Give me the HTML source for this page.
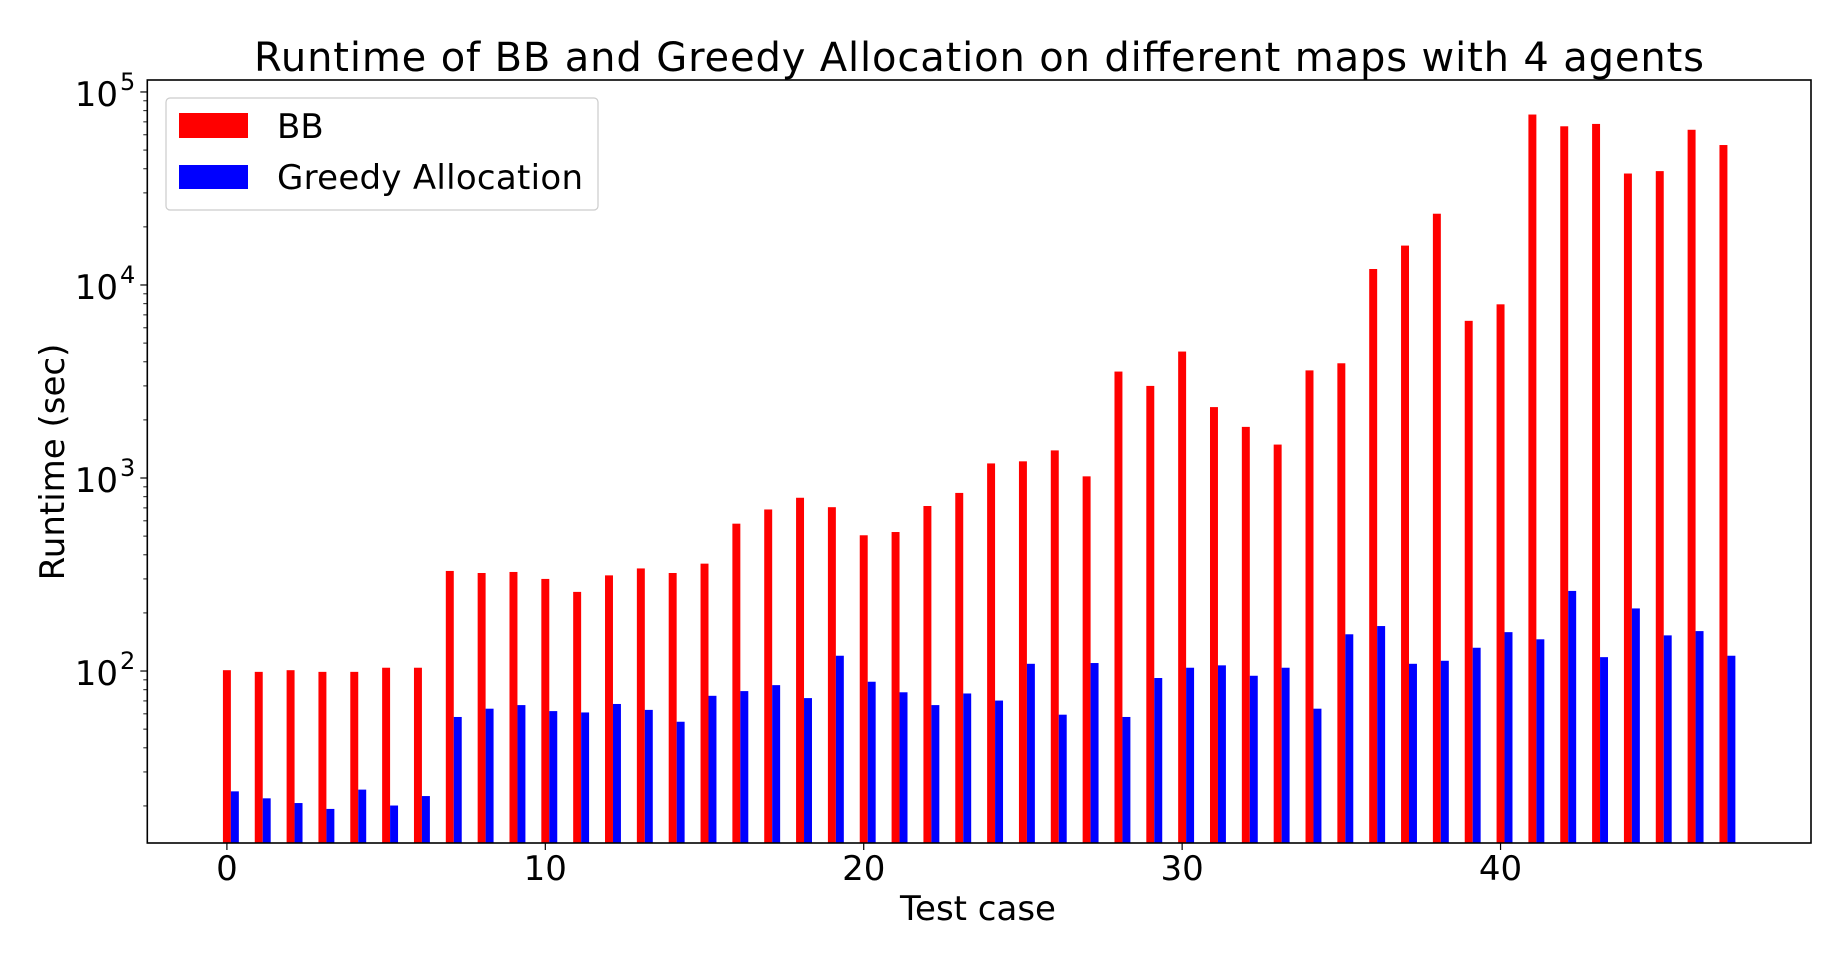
<!DOCTYPE html>
<html><head><meta charset="utf-8"><style>
html,body{margin:0;padding:0;background:#fff;}
svg{display:block;font-family:"DejaVu Sans","Liberation Sans",sans-serif;}
</style></head><body>
<svg id="chart" width="1848" height="964" viewBox="0 0 1848 964">
<text x="979" y="71" font-size="40" text-anchor="middle" textLength="1450">Runtime of BB and Greedy Allocation on different maps with 4 agents</text>
<g id="bars"></g>
<g id="axes"></g>
<text x="978" y="920" font-size="34" text-anchor="middle">Test case</text>
<text transform="translate(64,462) rotate(-90)" font-size="34" text-anchor="middle">Runtime (sec)</text>
<g>
<rect x="166" y="98" width="432" height="112" rx="4" fill="#fff" fill-opacity="0.8" stroke="#ccc" stroke-width="1.2"/>
<rect x="179" y="113" width="69" height="25" fill="#ff0000"/>
<text x="277" y="138" font-size="34">BB</text>
<rect x="179" y="165" width="69" height="24" fill="#0000ff"/>
<text x="277" y="189" font-size="34" textLength="306">Greedy Allocation</text>
</g>
</svg>
<script>
const categories = Array.from({length:48},(_,i)=>i);
const bbValues = [101,99,101,99,99,104,104,330,322,326,300,257,313,340,322,360,580,687,790,706,505,525,716,837,1190,1220,1390,1020,3560,3000,4520,2330,1840,1490,3610,3930,12100,16000,23400,6520,7940,76400,66400,68300,37800,38900,63700,53100];
const greedyValues = [23.8,21.9,20.7,19.3,24.3,20.1,22.5,57.8,63.8,66.6,62,61,67.5,62.9,54.6,74.4,78.7,84.5,72.4,120,88,77.6,66.6,76.5,70.3,109,59.4,110,57.8,92,104,107,94.5,104,63.8,155,171,109,113,132,159,146,260,118,211,153,161,120];
const xTicks = [0,10,20,30,40];
const yTicks = [2,3,4,5];

const NS = "http://www.w3.org/2000/svg";
const L=147.3, R=1811, T=80, B=843;
const xMin=-2.5, xMax=49.75;
const yTopLog=5.062, yBotLog=1.109;
const xs = v => L + (v - xMin)/(xMax - xMin)*(R - L);
const ys = v => T + (yTopLog - Math.log10(v))/(yTopLog - yBotLog)*(B - T);
const ysLog = lg => T + (yTopLog - lg)/(yTopLog - yBotLog)*(B - T);
const bw = 0.25;
function mk(tag, attrs){const e=document.createElementNS(NS,tag);for(const k in attrs)e.setAttribute(k,attrs[k]);return e;}
const bars=document.getElementById('bars');
categories.forEach((c,i)=>{
  const x0=xs(c-bw/2), x1=xs(c+bw/2), y=ys(bbValues[i]);
  const r=mk('rect',{x:x0,y:y,width:x1-x0,height:B-y,fill:'#ff0000'});
  
  
  bars.appendChild(r);
  const g0=xs(c+bw/2), g1=xs(c+1.5*bw), gy=ys(greedyValues[i]);
  const b=mk('rect',{x:g0,y:gy,width:g1-g0,height:B-gy,fill:'#0000ff'});
  
  
  bars.appendChild(b);
});
const axes=document.getElementById('axes');
const frame=mk('rect',{x:L,y:T,width:R-L,height:B-T,fill:'none',stroke:'#000','stroke-width':1.6});


axes.appendChild(frame);
xTicks.forEach(t=>{
  const x=xs(t);
  axes.appendChild(mk('line',{x1:x,x2:x,y1:B,y2:B+7,stroke:'#000','stroke-width':1.2}));
  const tx=mk('text',{x:x,y:880,'font-size':34,'text-anchor':'middle'});
  tx.textContent=String(t);
  
  
  axes.appendChild(tx);
});
yTicks.forEach(p=>{
  const y=ysLog(p);
  axes.appendChild(mk('line',{x1:L-7,x2:L,y1:y,y2:y,stroke:'#000','stroke-width':1.2}));
  const tx=mk('text',{x:118,y:y+14,'font-size':34,'text-anchor':'end'});
  tx.textContent='10';
  
  
  axes.appendChild(tx);
  const sp=mk('text',{x:120,y:y-2,'font-size':24});
  sp.textContent=String(p);
  
  
  axes.appendChild(sp);
});
for(let d=1; d<=5; d++){
  for(let m=2;m<=9;m++){
    const lg=d+Math.log10(m);
    if(lg>yTopLog||lg<yBotLog) continue;
    const y=ysLog(lg);
    axes.appendChild(mk('line',{x1:L-4,x2:L,y1:y,y2:y,stroke:'#000','stroke-width':0.9}));
  }
}
</script>
</body></html>
